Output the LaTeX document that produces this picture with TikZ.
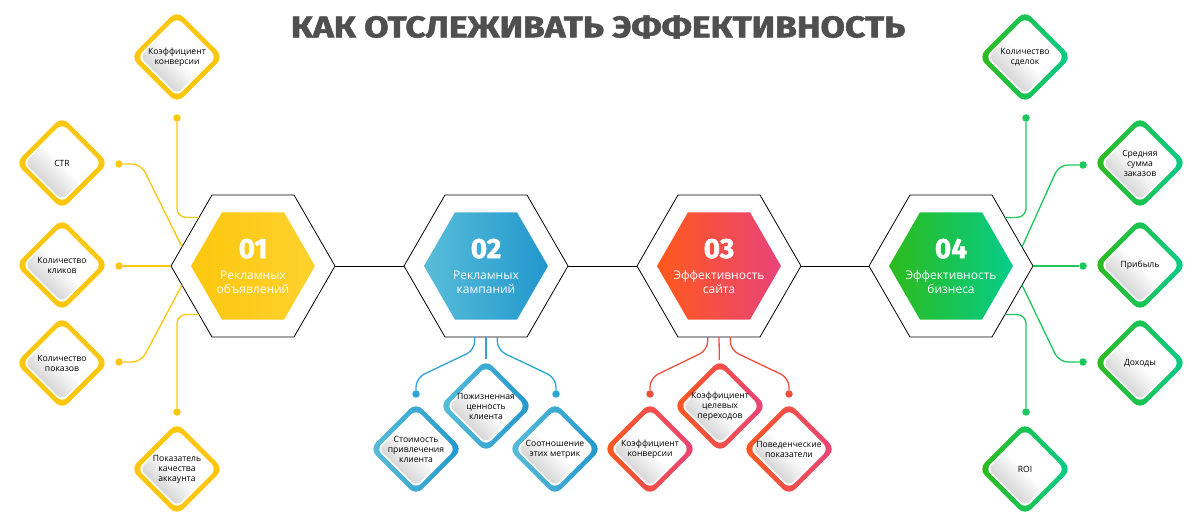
\documentclass[tikz,border=0pt]{standalone}
\usepackage{fontspec}
\setmainfont{Open Sans}
\newfontfamily\headfont{Fira Sans}[BoldFeatures={FakeBold=1.6}]
\usetikzlibrary{calc,shapes.geometric,backgrounds}
\definecolor{yel}{HTML}{FCC70E}
\definecolor{yelB}{HTML}{FDD12E}
\definecolor{bluA}{HTML}{58BDD9}
\definecolor{bluB}{HTML}{2297CD}
\definecolor{redA}{HTML}{FF591B}
\definecolor{redB}{HTML}{E8437A}
\definecolor{grnA}{HTML}{2DBB1B}
\definecolor{grnB}{HTML}{06CC8A}
\definecolor{blu}{HTML}{2EA4D5}
\definecolor{rd}{HTML}{F24F3C}
\definecolor{grn}{HTML}{1DC75D}
\definecolor{head}{HTML}{4F4F4F}
\newcommand\hexnum[1]{{\headfont\bfseries\fontsize{28}{28}\selectfont #1}\\[8pt]}
\tikzset{
  hexout/.style={regular polygon, regular polygon sides=6, minimum size=164pt, inner sep=0pt, outer sep=0pt, draw=black, line width=0.8pt, fill=white},
  hexin/.style={regular polygon, regular polygon sides=6, minimum size=124pt, inner sep=-30pt, text=white, align=center, font=\fontsize{12}{13.5}\selectfont},
  link/.style={line width=0.8pt},
  leg/.style={line width=1.3pt, rounded corners=9pt, draw=#1},
  dot/.style={circle, fill=#1, inner sep=0pt, minimum size=7.5pt},
  diam/.style={shape=diamond, aspect=1, minimum size=93pt, inner sep=0pt, rounded corners=9pt,
    align=center, font=\fontsize{8.6}{10}\selectfont,
    path picture={
      \fill[white, rounded corners=7pt] ($(path picture bounding box.center)+(0,39.5)$) -- ++(39.5,-39.5) -- ++(-39.5,-39.5) -- ++(-39.5,39.5) -- cycle;
      \shade[top color=white, bottom color=black!22, middle color=white, shading angle=-45, rounded corners=6pt]
        ($(path picture bounding box.center)+(0,37)$) -- ++(37,-37) -- ++(-37,-37) -- ++(-37,37) -- cycle;
    }},
  ydiam/.style={diam, left color=yel, right color=yel},
  bdiam/.style={diam, left color=bluA, right color=bluB},
  rdiam/.style={diam, left color=redA, right color=redB},
  gdiam/.style={diam, left color=grnA, right color=grnB}
}
\begin{document}
\begin{tikzpicture}[x=1pt,y=-1pt]
  \useasboundingbox[fill=white] (0,0) rectangle (1200,526);
  \node[font=\headfont\bfseries\fontsize{30}{30}\selectfont, text=head] (title) at (598,27) {\scalebox{1.18}[1]{КАК ОТСЛЕЖИВАТЬ ЭФФЕКТИВНОСТЬ}};

  % hexagons
  \node[hexout] (h1) at (253,266) {};
  \node[hexout] (h2) at (486,266) {};
  \node[hexout] (h3) at (719,266) {};
  \node[hexout] (h4) at (951,266) {};
  \node[hexin, left color=yel, right color=yelB] (h1in) at (h1) {\hexnum{01}Рекламных\\объявлений};
  \node[hexin, left color=bluA, right color=bluB] (h2in) at (h2) {\hexnum{02}Рекламных\\кампаний};
  \node[hexin, left color=redA, right color=redB] (h3in) at (h3) {\hexnum{03}Эффективность\\сайта};
  \node[hexin, left color=grnA, right color=grnB] (h4in) at (h4) {\hexnum{04}Эффективность\\бизнеса};
  \draw[link] (h1.east) -- (h2.west);
  \draw[link] (h2.east) -- (h3.west);
  \draw[link] (h3.east) -- (h4.west);

  % yellow
  \node[dot=yel] (y1d) at (177,118) {};
  \node[dot=yel] (y2d) at (119,164) {};
  \node[dot=yel] (y3d) at (119,266) {};
  \node[dot=yel] (y4d) at (119,362) {};
  \node[dot=yel] (y5d) at (177,412) {};
  \node[ydiam] (y1) at (177,57) {Коэффициент\\конверсии};
  \node[ydiam] (y2) at (62,163) {CTR};
  \node[ydiam] (y3) at (62,265) {Количество\\кликов};
  \node[ydiam] (y4) at (62,363) {Количество\\показов};
  \node[ydiam] (y5) at (177,469) {Показатель\\качества\\аккаунта};
  \draw[leg=yel] (y1d) |- (h1.138);
  \draw[leg=yel] (y2d) -- ++(22,0) -- (h1.165);
  \draw[leg=yel] (y3d) -- (h1.west);
  \draw[leg=yel] (y4d) -- ++(22,0) -- (h1.195);
  \draw[leg=yel] (y5d) |- (h1.222);

  % blue
  \node[dot=blu] (b1d) at (416,394) {};
  \node[dot=blu] (b3d) at (556,394) {};
  \node[bdiam] (b1) at (416,449) {Стоимость\\привлечения\\клиента};
  \node[bdiam] (b2) at (486,406) {Пожизненная\\ценность\\клиента};
  \node[bdiam] (b3) at (555,449) {Соотношение\\этих метрик};
  \draw[leg=blu] (h2.261) -- ++(0,13) -- ($(b1d)+(0,-16)$) -- (b1d);
  \draw[leg=blu] (h2.south) -- (b2);
  \draw[leg=blu] (h2.279) -- ++(0,13) -- ($(b3d)+(0,-16)$) -- (b3d);

  % red
  \node[dot=rd] (r1d) at (650,394) {};
  \node[dot=rd] (r3d) at (789,394) {};
  \node[rdiam] (r1) at (650,449) {Коэффициент\\конверсии};
  \node[rdiam] (r2) at (720,406) {Коэффициент\\целевых\\переходов};
  \node[rdiam] (r3) at (789,449) {Поведенческие\\показатели};
  \draw[leg=rd] (h3.261) -- ++(0,13) -- ($(r1d)+(0,-16)$) -- (r1d);
  \draw[leg=rd] (h3.south) -- (r2);
  \draw[leg=rd] (h3.279) -- ++(0,13) -- ($(r3d)+(0,-16)$) -- (r3d);

  % green
  \node[dot=grn] (g1d) at (1026,118) {};
  \node[dot=grn] (g2d) at (1083,165) {};
  \node[dot=grn] (g3d) at (1083,266) {};
  \node[dot=grn] (g4d) at (1083,362) {};
  \node[dot=grn] (g5d) at (1026,412) {};
  \node[gdiam] (g1) at (1025,57) {Количество\\сделок};
  \node[gdiam] (g2) at (1140,163) {Средняя\\сумма\\заказов};
  \node[gdiam] (g3) at (1140,265) {Прибыль};
  \node[gdiam] (g4) at (1140,363) {Доходы};
  \node[gdiam] (g5) at (1025,469) {ROI};
  \draw[leg=grn] (g1d) |- (h4.42);
  \draw[leg=grn] (g2d) -- ++(-24,0) -- (h4.15);
  \draw[leg=grn] (g3d) -- (h4.east);
  \draw[leg=grn] (g4d) -- ++(-24,0) -- (h4.345);
  \draw[leg=grn] (g5d) |- (h4.318);
\end{tikzpicture}
\end{document}
